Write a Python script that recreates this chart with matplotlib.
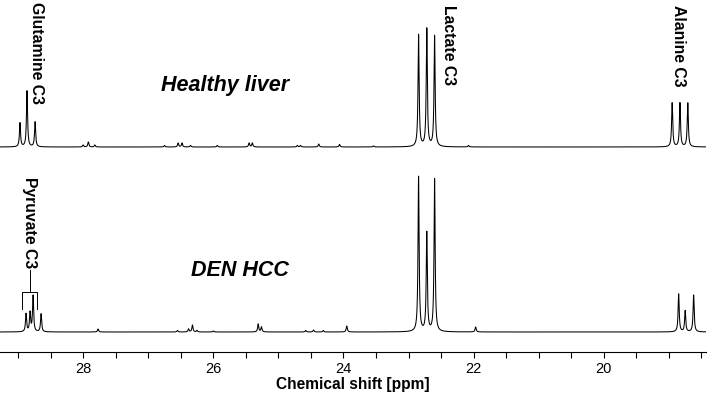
import numpy as np
import matplotlib
matplotlib.use("Agg")
import matplotlib.pyplot as plt
from matplotlib.ticker import MultipleLocator

# ---- data (ppm, peak height in px units) ----
healthy_ppm = [28.97, 28.862, 28.738, 28.00, 27.92, 27.82, 26.75, 26.54, 26.48,
               26.35, 25.94, 25.45, 25.40, 24.71, 24.66, 24.38, 24.06, 23.54,
               22.08, 22.846, 22.72, 22.60, 18.95, 18.83, 18.71]
healthy_height = [24, 56, 25, 2, 5, 2, 1.5, 4, 4,
                  1.5, 1.5, 4, 4, 1.5, 1.5, 3, 2.5, 1,
                  1.5, 112, 118, 111, 44, 44, 44]

hcc_ppm = [28.877, 28.815, 28.769, 28.646, 27.77, 26.55, 26.38, 26.32, 26.25,
           26.00, 25.31, 25.26, 24.58, 24.46, 24.31, 23.95, 21.97,
           22.846, 22.72, 22.60, 18.85, 18.75, 18.62]
hcc_height = [18, 19, 36, 18, 3, 1.5, 3, 7, 1.5,
              1, 8, 5, 1.5, 2, 1.5, 6, 5,
              155, 99, 153, 38, 21, 37]

major_ticks = [28, 26, 24, 22, 20]
tick_labels = ["28", "26", "24", "22", "20"]

labels_top = ["Glutamine C3", "Lactate C3", "Alanine C3"]
labels_top_ppm = [28.72, 22.38, 18.86]
label_bottom = "Pyruvate C3"
pyruvate_bracket_ppm = [28.94, 28.71]

# ---- build traces ----
x = np.linspace(29.35, 18.35, 6000)
gamma = 0.010


def spectrum(ppm, height):
    y = np.zeros_like(x)
    for p, h in zip(ppm, height):
        y += h * gamma**2 / ((x - p) ** 2 + gamma**2)
    return y


TOP_OFF = 205
BOT_OFF = 20
FONT = "Liberation Sans"

fig = plt.figure(figsize=(7.12, 3.97), dpi=100)
ax = fig.add_axes([0, 45 / 397, 706 / 712, 352 / 397])
ax.plot(x, spectrum(healthy_ppm, healthy_height) + TOP_OFF, color="black", lw=0.75)
ax.plot(x, spectrum(hcc_ppm, hcc_height) + BOT_OFF, color="black", lw=0.75)

ax.set_xlim(29.277, 18.43)
ax.set_ylim(0, 352)
for s in ["top", "left", "right"]:
    ax.spines[s].set_visible(False)
ax.spines["bottom"].set_linewidth(0.8)
ax.set_yticks([])
ax.set_xticks(major_ticks)
ax.set_xticklabels(tick_labels, fontsize=10.5, family=FONT)
ax.xaxis.set_minor_locator(MultipleLocator(0.5))
ax.tick_params(axis="x", which="both", direction="out", length=4, width=0.8, pad=3)
ax.set_xlabel("Chemical shift [ppm]", fontsize=11.2, fontweight="bold",
              family=FONT, labelpad=1)

lab_kw = dict(rotation=270, fontsize=11.3, fontweight="bold", family=FONT,
              ha="center", va="top")
ax.text(labels_top_ppm[0], 350, labels_top[0], **lab_kw)
ax.text(labels_top_ppm[1], 347, labels_top[1], **lab_kw)
ax.text(labels_top_ppm[2], 347, labels_top[2], **lab_kw)
ax.text(28.82, 175, label_bottom, **lab_kw)

# bracket for pyruvate
b0, b1 = pyruvate_bracket_ppm
ax.plot([b0, b0, b1, b1], [43, 60, 60, 43], color="black", lw=0.7)
ax.plot([28.815, 28.815], [60, 82], color="black", lw=0.7)

ax.text(25.815, 267, "Healthy liver", fontsize=15.5, fontweight="bold", style="italic",
        family=FONT, ha="center", va="center")
ax.text(25.585, 82, "DEN HCC", fontsize=15.5, fontweight="bold", style="italic",
        family=FONT, ha="center", va="center")

fig.savefig("out.png", dpi=100)
